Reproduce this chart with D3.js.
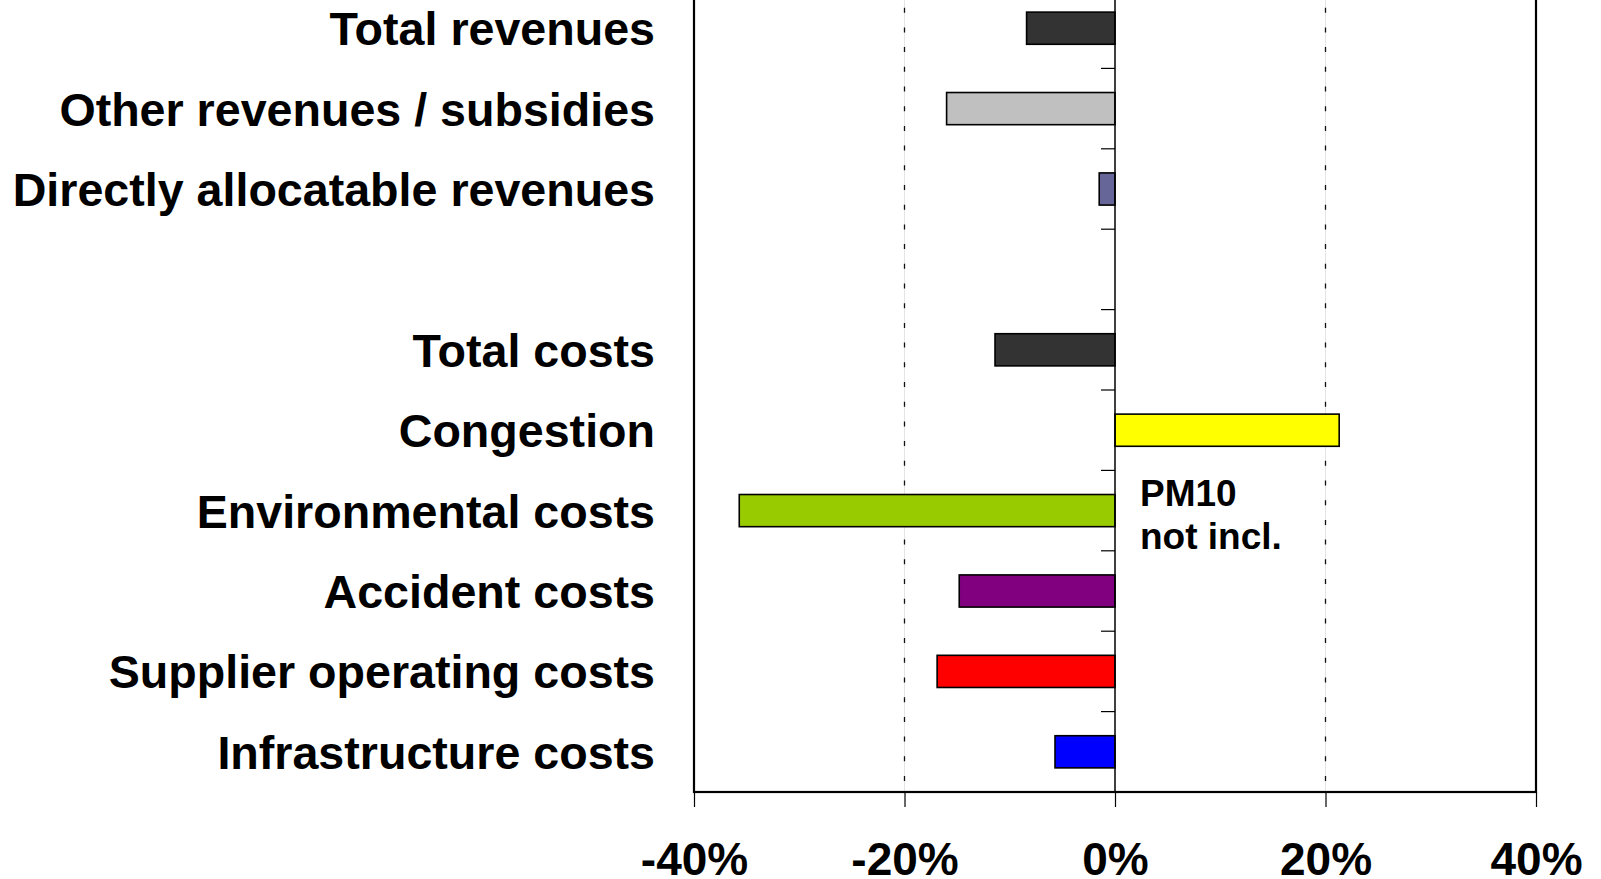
<!DOCTYPE html>
<html>
<head>
<meta charset="utf-8">
<script src="https://cdn.jsdelivr.net/npm/d3@7"></script>
<style>
  body { margin: 0; background: #fff; }
  text { font-family: "Liberation Sans", Arial, sans-serif; font-weight: bold; fill: #000; }
</style>
</head>
<body>
<div id="chart"></div>
<script>
// chart data
var categories = ["Total revenues", "Other revenues / subsidies", "Directly allocatable revenues", "",
                  "Total costs", "Congestion", "Environmental costs", "Accident costs",
                  "Supplier operating costs", "Infrastructure costs"];
var values = [-0.084, -0.160, -0.015, null, -0.114, 0.213, -0.357, -0.148, -0.169, -0.057];
var colors = ["#333333", "#c0c0c0", "#666699", null, "#333333", "#ffff00", "#99cc00", "#800080", "#ff0000", "#0000ff"];
var xTicks = [-0.4, -0.2, 0, 0.2, 0.4];
var gridTicks = [-0.2, 0.2];
var noteLines = ["PM10", "not incl."];
var noteCategory = "Environmental costs";

// layout settings
var width = 1601;
var height = 879;
var plotLeft = 694;
var plotRight = 1536;
var plotTop = -12;
var plotBottom = 792;

var svg = d3.select("#chart")
    .append("svg")
    .attr("width", width)
    .attr("height", height);

// keys for the band scale (blank slot needs a unique key)
var keys = categories.map(function(c, i) { return i + ":" + c; });

var x = d3.scaleLinear()
    .domain([-0.4, 0.4])
    .range([plotLeft, plotRight]);

var y = d3.scaleBand()
    .domain(keys)
    .range([plotTop, plotBottom])
    .paddingInner(0.6)
    .paddingOuter(0.3);

// dashed gridlines
var grid = svg.append("g").attr("class", "grid");
grid.selectAll("line.under")
    .data(gridTicks)
    .enter().append("line")
    .attr("class", "under")
    .attr("x1", function(d) { return x(d); })
    .attr("x2", function(d) { return x(d); })
    .attr("y1", plotTop)
    .attr("y2", plotBottom)
    .attr("stroke", "#e4e4e4")
    .attr("stroke-width", 1);
grid.selectAll("line.dash")
    .data(gridTicks)
    .enter().append("line")
    .attr("class", "dash")
    .attr("x1", function(d) { return x(d); })
    .attr("x2", function(d) { return x(d); })
    .attr("y1", plotTop)
    .attr("y2", plotBottom)
    .attr("stroke", "#111")
    .attr("stroke-width", 1.3)
    .attr("stroke-dasharray", "5,14.7");

// plot border (top is cropped off)
svg.append("rect")
    .attr("x", plotLeft)
    .attr("y", plotTop)
    .attr("width", plotRight - plotLeft)
    .attr("height", plotBottom - plotTop)
    .attr("fill", "none")
    .attr("stroke", "#000")
    .attr("stroke-width", 2.2);

// x axis
var xAxis = svg.append("g")
    .attr("transform", "translate(0," + plotBottom + ")")
    .call(d3.axisBottom(x)
        .tickValues(xTicks)
        .tickSize(15)
        .tickFormat(function(d) { return Math.round(d * 100) + "%"; }));
xAxis.select(".domain").remove();
xAxis.selectAll(".tick line").attr("stroke", "#000").attr("stroke-width", 1.2);
xAxis.selectAll(".tick text")
    .attr("y", 83)
    .attr("dy", 0)
    .style("font-size", "46px")
    .style("font-family", "'Liberation Sans', Arial, sans-serif")
    .style("font-weight", "bold")
    .attr("fill", "#000");

// bars
svg.append("g")
    .selectAll("rect")
    .data(keys.filter(function(k, i) { return values[i] != null; }))
    .enter().append("rect")
    .attr("x", function(k) { var v = values[keys.indexOf(k)]; return x(Math.min(0, v)); })
    .attr("width", function(k) { var v = values[keys.indexOf(k)]; return Math.abs(x(v) - x(0)); })
    .attr("y", function(k) { return y(k); })
    .attr("height", y.bandwidth())
    .attr("fill", function(k) { return colors[keys.indexOf(k)]; })
    .attr("stroke", "#000")
    .attr("stroke-width", 1.6);

// zero line with category ticks
svg.append("line")
    .attr("x1", x(0))
    .attr("x2", x(0))
    .attr("y1", plotTop)
    .attr("y2", plotBottom)
    .attr("stroke", "#000")
    .attr("stroke-width", 1.5);

var boundaries = d3.range(keys.length + 1).map(function(i) { return plotTop + i * y.step(); });
svg.append("g")
    .selectAll("line")
    .data(boundaries)
    .enter().append("line")
    .attr("x1", x(0) - 14)
    .attr("x2", x(0))
    .attr("y1", function(d) { return d; })
    .attr("y2", function(d) { return d; })
    .attr("stroke", "#000")
    .attr("stroke-width", 1.2);

// category labels
svg.append("g")
    .selectAll("text")
    .data(keys)
    .enter().append("text")
    .attr("x", 655)
    .attr("y", function(k) { return y(k) + y.bandwidth() / 2 + 17; })
    .attr("text-anchor", "end")
    .style("font-size", "46.6px")
    .text(function(k, i) { return categories[i]; });

// annotation
var noteKey = keys[categories.indexOf(noteCategory)];
svg.append("g")
    .selectAll("text")
    .data(noteLines)
    .enter().append("text")
    .attr("x", x(0) + 25)
    .attr("y", function(d, i) { return y(noteKey) + y.bandwidth() / 2 - 5 + i * 43; })
    .style("font-size", "37px")
    .text(function(d) { return d; });
</script>
</body>
</html>
